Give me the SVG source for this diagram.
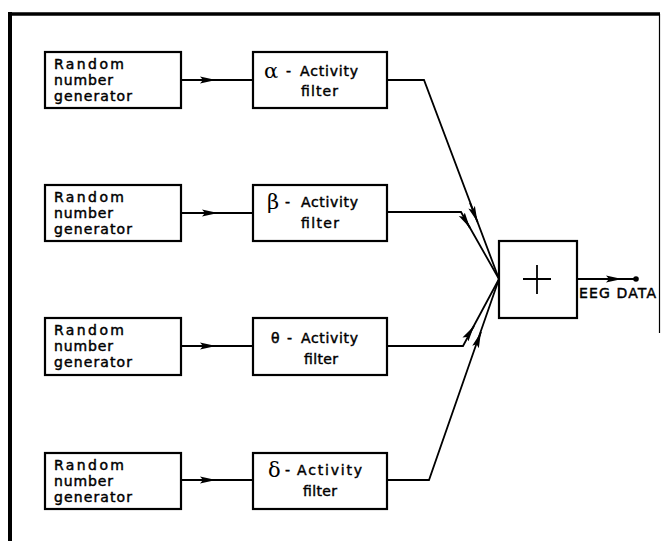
<svg xmlns="http://www.w3.org/2000/svg" width="661" height="543" viewBox="0 0 661 543">
<style>
.box{fill:#fff;stroke:#000;stroke-width:2.2}
.t{font-family:"DejaVu Sans",sans-serif;font-size:14px;fill:#000;stroke:#000;stroke-width:0.45}
.g{font-family:"DejaVu Serif",serif;font-size:21px;fill:#000}
.ln{fill:none;stroke:#000;stroke-width:1.8}
</style>
<defs>
<marker id="ah" markerWidth="18" markerHeight="10" refX="16" refY="5" orient="auto" markerUnits="userSpaceOnUse">
<path d="M0,1.5 L16,5 L0,8.5 L3,5 Z" fill="#000"/>
</marker>
</defs>
<rect width="661" height="543" fill="#fff"/>
<g id="frame">
<line x1="8" y1="14" x2="660" y2="14" stroke="#000" stroke-width="3.5"/>
<line x1="10" y1="12" x2="10" y2="541" stroke="#000" stroke-width="4"/>
<line x1="659.5" y1="14" x2="659.5" y2="333" stroke="#000" stroke-width="1.2"/>
</g>
<g id="rng1"><rect class="box" x="45" y="52" width="136" height="56"/>
<text class="t"><tspan x="54" y="69" textLength="70" lengthAdjust="spacing">Random</tspan><tspan x="54" y="85" textLength="59" lengthAdjust="spacing">number</tspan><tspan x="54" y="101" textLength="78" lengthAdjust="spacing">generator</tspan></text></g>
<g id="rng2"><rect class="box" x="45" y="185" width="136" height="56"/>
<text class="t"><tspan x="54" y="202" textLength="70" lengthAdjust="spacing">Random</tspan><tspan x="54" y="218" textLength="59" lengthAdjust="spacing">number</tspan><tspan x="54" y="234" textLength="78" lengthAdjust="spacing">generator</tspan></text></g>
<g id="rng3"><rect class="box" x="45" y="318" width="136" height="57"/>
<text class="t"><tspan x="54" y="335" textLength="70" lengthAdjust="spacing">Random</tspan><tspan x="54" y="351" textLength="59" lengthAdjust="spacing">number</tspan><tspan x="54" y="367" textLength="78" lengthAdjust="spacing">generator</tspan></text></g>
<g id="rng4"><rect class="box" x="45" y="453" width="136" height="56"/>
<text class="t"><tspan x="54" y="470" textLength="70" lengthAdjust="spacing">Random</tspan><tspan x="54" y="486" textLength="59" lengthAdjust="spacing">number</tspan><tspan x="54" y="502" textLength="78" lengthAdjust="spacing">generator</tspan></text></g>
<g id="alpha"><rect class="box" x="253" y="52" width="134" height="56"/>
<text class="g" x="264" y="78">α</text>
<text class="t"><tspan x="286" y="76">-</tspan><tspan x="300" y="76" textLength="58" lengthAdjust="spacing">Activity</tspan><tspan x="301" y="96" textLength="37" lengthAdjust="spacing">filter</tspan></text></g>
<g id="beta"><rect class="box" x="253" y="185" width="134" height="56"/>
<text class="g" x="267" y="209">β</text>
<text class="t"><tspan x="285" y="207">-</tspan><tspan x="301" y="207" textLength="57" lengthAdjust="spacing">Activity</tspan><tspan x="301" y="228" textLength="38" lengthAdjust="spacing">filter</tspan></text></g>
<g id="theta"><rect class="box" x="253" y="318" width="134" height="57"/>
<text class="t"><tspan x="271" y="343">θ</tspan><tspan x="287" y="343">-</tspan><tspan x="301" y="343" textLength="57" lengthAdjust="spacing">Activity</tspan><tspan x="304" y="364" textLength="34" lengthAdjust="spacing">filter</tspan></text></g>
<g id="delta"><rect class="box" x="253" y="453" width="134" height="56"/>
<text class="g" x="268" y="477">δ</text>
<text class="t"><tspan x="285" y="475">-</tspan><tspan x="297" y="475" textLength="65" lengthAdjust="spacing">Activity</tspan><tspan x="303" y="496" textLength="34" lengthAdjust="spacing">filter</tspan></text></g>
<g id="sum"><rect class="box" x="499" y="241" width="78" height="77"/>
<path d="M523,279 H551 M537,265 V294" stroke="#000" stroke-width="1.8" fill="none"/></g>
<g id="connectors">
<path class="ln" d="M181,80 H253"/><path class="ln" d="M195,80 H216" marker-end="url(#ah)"/>
<path class="ln" d="M181,213 H253"/><path class="ln" d="M195,213 H218" marker-end="url(#ah)"/>
<path class="ln" d="M181,346 H253"/><path class="ln" d="M195,346 H216" marker-end="url(#ah)"/>
<path class="ln" d="M181,480 H253"/><path class="ln" d="M195,480 H216" marker-end="url(#ah)"/>
<path class="ln" d="M387,80 H424 L499,279"/><path class="ln" d="M470,203 L477.5,222" marker-end="url(#ah)"/>
<path class="ln" d="M387,212 H461 L499,279"/><path class="ln" d="M464,218 L470,228" marker-end="url(#ah)"/>
<path class="ln" d="M387,346 H463 L499,279"/><path class="ln" d="M467,337 L474,326" marker-end="url(#ah)"/>
<path class="ln" d="M387,480 H429 L499,279"/><path class="ln" d="M477,343 L481,332" marker-end="url(#ah)"/>
<path class="ln" d="M577,279 H636"/><path class="ln" d="M600,279 H622" marker-end="url(#ah)"/>
<circle cx="636" cy="279" r="2.8" fill="#000"/>
</g>
<text class="t" x="579" y="298" stroke-width="0.6" textLength="77" lengthAdjust="spacing">EEG DATA</text>
</svg>
